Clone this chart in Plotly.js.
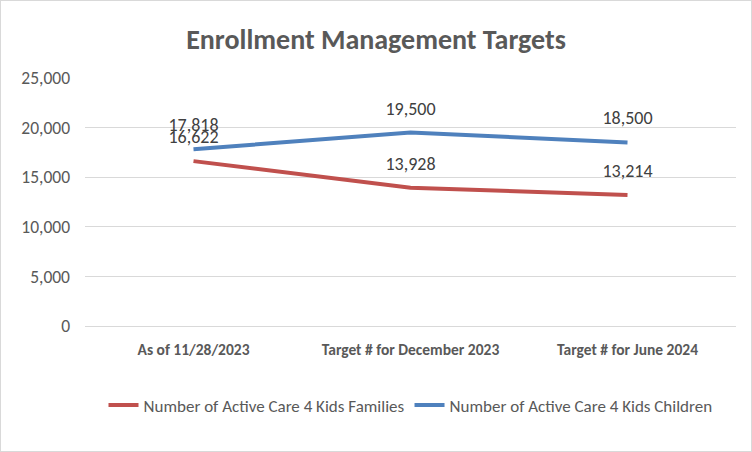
<!DOCTYPE html>
<html>
<head>
<meta charset="utf-8">
<script src="https://cdn.plot.ly/plotly-3.0.1.min.js"></script>
<style>
html,body{margin:0;padding:0;background:#fff;}
#chart{width:750px;height:450px;border:1px solid #d9d9d9;}
</style>
</head>
<body>
<div id="chart"></div>
<script>
const categories = ["As of 11/28/2023", "Target # for December 2023", "Target # for June 2024"];
const familiesName = "Number of Active Care 4 Kids Families";
const familiesValues = [16622, 13928, 13214];
const childrenName = "Number of Active Care 4 Kids Children";
const childrenValues = [17818, 19500, 18500];
const yTickVals = [0, 5000, 10000, 15000, 20000, 25000];
const yTickText = ["0", "5,000", "10,000", "15,000", "20,000", "25,000"];

const fmt = v => v.toLocaleString("en-US");
const font = "Calibri, Carlito, 'Open Sans', 'Liberation Sans', sans-serif";

function trace(name, values, color) {
  return {
    x: categories, y: values, name: name, type: "scatter", mode: "lines+markers+text",
    line: {color: color, width: 4},
    marker: {size: 20, color: "rgba(0,0,0,0)", line: {width: 0}},
    text: values.map(fmt), textposition: "top center",
    textfont: {size: 18, color: "#404040", family: font},
    cliponaxis: false
  };
}

const traces = [
  trace(familiesName, familiesValues, "#C0504D"),
  trace(childrenName, childrenValues, "#4F81BD")
];

const layout = {
  width: 750, height: 450,
  margin: {l: 84, r: 15, t: 77, b: 125},
  paper_bgcolor: "#fff", plot_bgcolor: "#fff",
  font: {family: font, color: "#595959"},
  title: {text: "<b>Enrollment Management Targets</b>", font: {size: 28, color: "#595959", family: font}, x: 0.5, xanchor: "center", y: 0.915, yanchor: "middle"},
  xaxis: {
    type: "category", range: [-0.5, 2.5], showgrid: false, showline: false, zeroline: false,
    tickvals: categories, ticktext: categories.map(c => "<b>" + c + "</b>"),
    tickfont: {size: 15.5, color: "#595959", family: font},
    ticks: "", ticklabelstandoff: 12
  },
  yaxis: {
    range: [0, 25000], tickvals: yTickVals, ticktext: yTickText,
    showgrid: true, gridcolor: "#d9d9d9", gridwidth: 1,
    zeroline: true, zerolinecolor: "#d9d9d9", zerolinewidth: 1,
    showline: false, ticks: "", ticklabelstandoff: 14,
    tickfont: {size: 17.5, color: "#595959", family: font}
  },
  showlegend: true,
  legend: {orientation: "h", x: 0.5, xanchor: "center", y: -0.32, yanchor: "middle",
    font: {size: 17, color: "#595959", family: font}, itemwidth: 30, tracegroupgap: 0},
};

Plotly.newPlot("chart", traces, layout, {displayModeBar: false, staticPlot: true});
</script>
</body>
</html>
